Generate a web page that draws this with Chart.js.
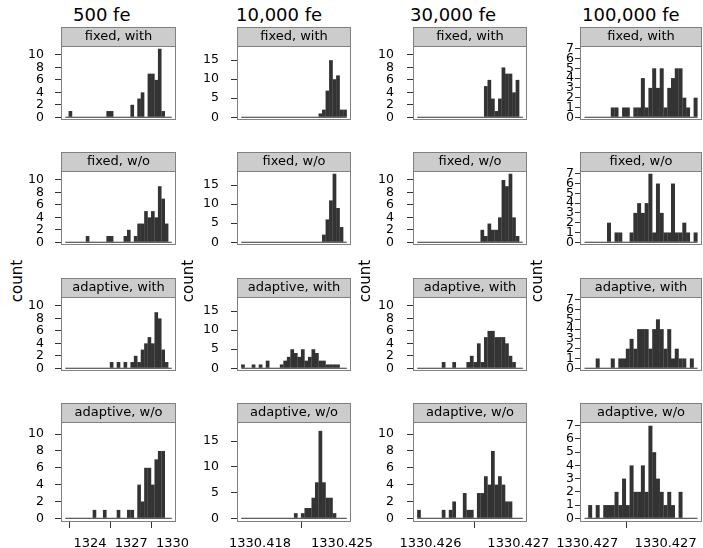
<!DOCTYPE html>
<html>
<head>
<meta charset="utf-8">
<title>fe histograms</title>
<script src="https://cdn.jsdelivr.net/npm/chart.js@4.4.1/dist/chart.umd.min.js"></script>
<style>
  html, body { margin: 0; padding: 0; background: #fff; }
  body { position: relative; width: 703px; height: 548px; overflow: hidden; font-family: "DejaVu Sans", sans-serif; }
  canvas { position: absolute; }
  .coltitle { position: absolute; top: 6px; font-size: 18px; line-height: 18px; white-space: nowrap; color: #000; }
  .ylab { position: absolute; width: 60px; height: 16px; margin-left: -30px; margin-top: -8px;
          font-size: 15px; line-height: 16px; text-align: center; transform: rotate(-90deg); color: #000; }
</style>
</head>
<body>
<script>
// column headers and strip names
const columnTitles = ['500 fe', '10,000 fe', '30,000 fe', '100,000 fe'];
const stripNames = ['fixed, with', 'fixed, w/o', 'adaptive, with', 'adaptive, w/o'];
const yAxisTitle = 'count';

// histogram breaks per column: first break and bin width
const binStart = [1322.2, 1330.4164, 1330.42585, 1330.4269966];
const binWidth = [0.25, 0.0003, 0.00004, 0.0000048];

// counts per bin, one array per panel, rows top to bottom
const counts500 = [
  [0,1,0,0,0,0,0,0,0,0, 0,0,1,1,0,0,0,0,0,2, 0,3,4,0,7,7,6,11,1,0, 0],
  [0,0,0,0,0,0,1,0,0,0, 0,0,1,1,0,0,0,1,2,0, 1,3,3,5,4,5,4,9,7,3, 0],
  [0,0,0,0,0,0,0,0,0,0, 0,0,0,1,0,1,0,1,0,1, 2,1,3,4,5,4,9,8,3,1, 0],
  [0,0,0,0,0,0,0,0,1,0, 0,1,0,0,0,1,0,0,1,1, 0,4,2,6,6,4,7,8,8,0, 0]
];
const counts10k = [
  [0,0,0,0,0,0,0,0,0,0, 0,0,0,0,0,0,0,0,0,0, 0,0,1,2,7,15,10,11,2,2],
  [0,0,0,0,0,0,0,0,0,0, 0,0,0,0,0,0,0,0,0,0, 0,0,0,2,6,11,18,9,4,0],
  [1,0,0,1,0,1,0,2,0,0, 0,1,2,3,5,4,3,5,2,3, 5,4,2,2,1,1,1,1,0,0],
  [0,0,0,0,0,0,0,0,0,0, 0,0,0,0,0,1,0,1,2,2, 4,7,17,7,4,4,1,0,0,0]
];
const counts30k = [
  [0,0,0,0,0,0,0,0,0,0, 0,0,0,0,0,0,0,0,0,5, 6,3,1,3,8,7,7,4,6,0],
  [0,0,0,0,0,0,0,0,0,0, 0,0,0,0,0,0,0,0,2,1, 3,2,2,4,10,9,11,4,1,0],
  [0,0,0,0,0,0,0,1,0,0, 1,0,0,0,1,2,1,4,1,5, 6,6,5,5,5,4,2,1,0,0],
  [1,0,0,0,0,0,0,1,0,1, 2,0,0,3,1,1,0,3,3,5, 4,8,4,5,4,2,2,0,0,0]
];
const counts100k = [
  [0,0,0,0,0,0,0,1,1,0, 1,1,0,1,1,4,1,3,5,3, 5,1,3,4,5,5,2,1,0,2],
  [0,0,0,0,0,0,2,0,1,1, 0,0,1,3,4,3,4,7,1,6, 3,1,1,6,1,1,2,1,0,1],
  [0,0,0,1,0,0,0,1,0,1, 1,2,3,2,4,4,4,2,4,5, 4,2,4,1,2,1,1,0,1,0],
  [0,1,0,1,0,1,1,1,2,1, 3,1,4,2,2,4,2,7,5,3, 2,1,2,1,0,2,0,0,0,0]
];
const counts = [counts500, counts10k, counts30k, counts100k];

// axis ticks
const xTicks = [[1324, 1327, 1330], [1330.418, 1330.425], [1330.426, 1330.427], [1330.427, 1330.4271]];
const xTickLabels = [['1324', '1327', '1330'], ['1330.418', '1330.425'], ['1330.426', '1330.427'], ['1330.427', '1330.427']];
const yTicks = [[0, 2, 4, 6, 8, 10], [0, 5, 10, 15], [0, 2, 4, 6, 8, 10], [0, 1, 2, 3, 4, 5, 6, 7]];
const yMax = [11, 18, 11, 7];

// layout (pixels)
const panelLeft = [61, 237, 413, 580];
const panelRight = [176, 351, 527, 702];
const panelTop = [46, 171, 297, 422];
const panelH = 100, stripH = 19, axisW = 52, extraR = 45;
const yLabelGap = [11, 12, 13, 1];
const yTickLen = [6, 6, 6, 5];
const titleLeft = [73, 236, 410, 582];
const ylabX = [17, 188, 365, 537];
const ylabY = 281;

const barColor = '#333333';
const boxColor = '#808080';

Chart.defaults.font.family = '"DejaVu Sans", sans-serif';

const panelBox = {
  id: 'panelBox',
  afterDraw(chart, args, opts) {
    const a = chart.chartArea, ctx = chart.ctx;
    const w = a.right - a.left;
    ctx.save();
    ctx.fillStyle = '#cccccc';
    ctx.fillRect(a.left, a.top - stripH, w, stripH);
    ctx.strokeStyle = boxColor;
    ctx.lineWidth = 1;
    ctx.strokeRect(a.left + 0.5, a.top - stripH + 0.5, w - 1, stripH);
    ctx.strokeRect(a.left + 0.5, a.top + 0.5, w - 1, a.bottom - a.top - 1);
    ctx.fillStyle = '#000';
    ctx.font = '13px "DejaVu Sans"';
    ctx.textAlign = 'center';
    ctx.textBaseline = 'middle';
    ctx.fillText(opts.label, a.left + w / 2, a.top - stripH / 2 + 0.5);
    ctx.restore();
  }
};

function makePanel(c, r) {
  const bottom = r === 3;
  const n = counts[c][r].length;
  const range = n * binWidth[c];
  const start = binStart[c];

  const cv = document.createElement('canvas');
  const w = axisW + (panelRight[c] - panelLeft[c]) + extraR;
  const h = stripH + panelH + (bottom ? 26 : 1);
  cv.width = w;
  cv.height = h;
  cv.style.left = (panelLeft[c] - axisW) + 'px';
  cv.style.top = (panelTop[r] - stripH) + 'px';
  document.body.appendChild(cv);

  const bars = counts[c][r].map((v, i) => ({ x: start + (i + 0.5) * binWidth[c], y: v }));

  new Chart(cv.getContext('2d'), {
    type: 'bar',
    data: {
      datasets: [{
        type: 'bar',
        data: bars,
        backgroundColor: barColor,
        borderWidth: 0,
        barPercentage: 1.06,
        categoryPercentage: 1
      }, {
        type: 'line',
        data: [{ x: start, y: 0 }, { x: start + range, y: 0 }],
        borderColor: barColor,
        borderWidth: 1,
        pointRadius: 0
      }]
    },
    options: {
      responsive: false,
      animation: false,
      events: [],
      layout: { padding: { top: stripH, right: extraR, bottom: bottom ? 0 : 1, left: 0 } },
      plugins: {
        legend: { display: false },
        tooltip: { enabled: false },
        panelBox: { label: stripNames[r] }
      },
      scales: {
        x: {
          type: 'linear',
          display: bottom,
          offset: false,
          min: start - 0.04 * range,
          max: start + 1.04 * range,
          afterBuildTicks: s => { s.ticks = xTicks[c].map(v => ({ value: v })); },
          afterFit: s => { s.height = 26; s.paddingLeft = 0; s.paddingRight = 0; },
          border: { display: false },
          grid: { drawOnChartArea: false, drawTicks: true, tickLength: 6, color: '#333' },
          ticks: {
            autoSkip: false, maxRotation: 0, minRotation: 0, padding: 8,
            color: '#000', font: { size: 13 },
            callback: (v, i) => xTickLabels[c][i]
          }
        },
        y: {
          min: -0.04 * yMax[c],
          max: 1.04 * yMax[c],
          afterBuildTicks: s => { s.ticks = yTicks[c].map(v => ({ value: v })); },
          afterFit: s => { s.width = axisW; s.paddingTop = 0; s.paddingBottom = 0; },
          border: { display: false },
          grid: { drawOnChartArea: false, drawTicks: true, tickLength: yTickLen[c], color: '#333' },
          ticks: { autoSkip: false, padding: yLabelGap[c], color: '#000', font: { size: 12.5 } }
        }
      }
    },
    plugins: [panelBox]
  });
}

for (let c = 0; c < 4; c++) {
  const t = document.createElement('div');
  t.className = 'coltitle';
  t.style.left = titleLeft[c] + 'px';
  t.textContent = columnTitles[c];
  document.body.appendChild(t);

  const yl = document.createElement('div');
  yl.className = 'ylab';
  yl.style.left = ylabX[c] + 'px';
  yl.style.top = ylabY + 'px';
  yl.textContent = yAxisTitle;
  document.body.appendChild(yl);

  for (let r = 0; r < 4; r++) makePanel(c, r);
}
</script>
</body>
</html>
